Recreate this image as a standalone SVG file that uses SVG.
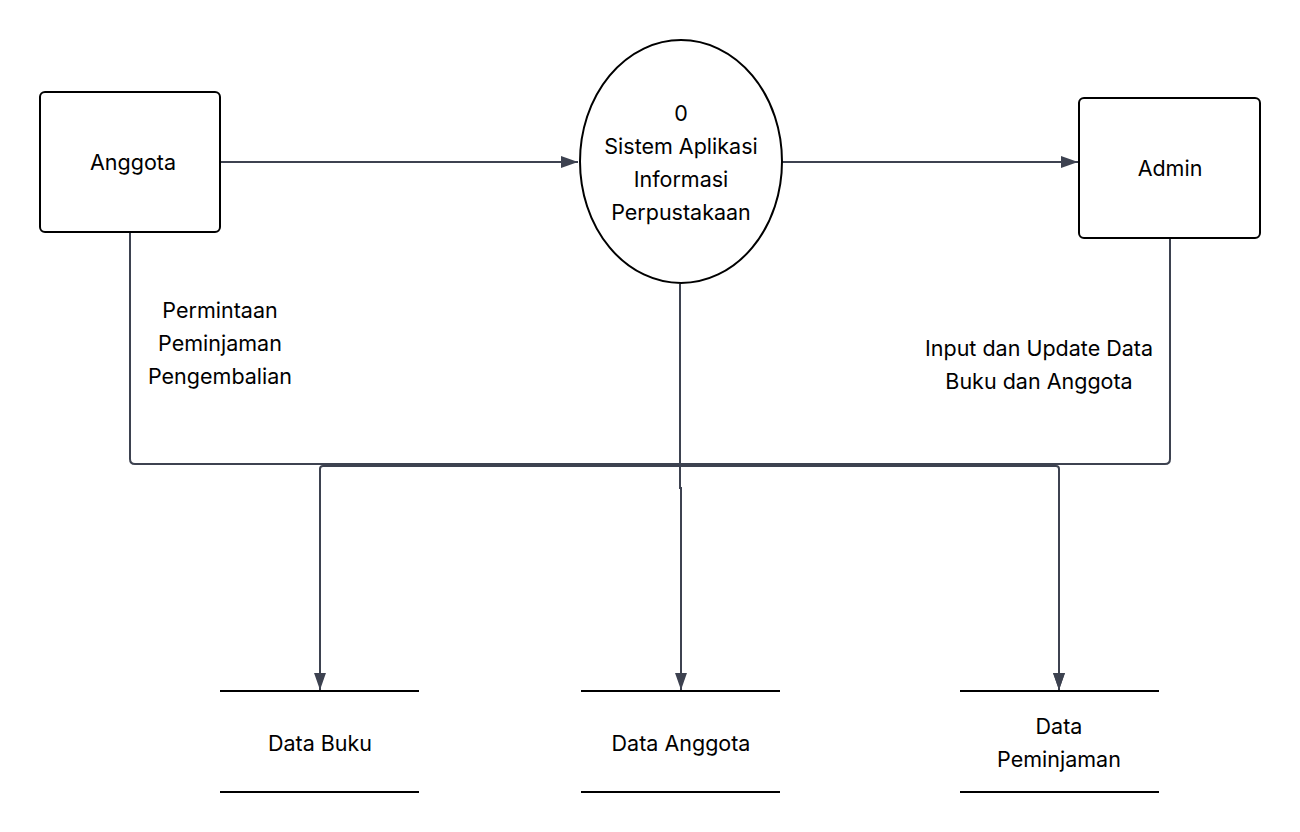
<svg xmlns="http://www.w3.org/2000/svg" width="1300" height="832" viewBox="0 0 1300 832">
<style>
.ent{fill:#fff;stroke:#000;stroke-width:2}
.con{fill:none;stroke:#3d4250;stroke-width:2}
.store{stroke:#000;stroke-width:2}
text{font-family:Inter,"Liberation Sans",sans-serif;font-size:21.5px;fill:#000;text-anchor:middle;dominant-baseline:central}
</style>
<defs>
<marker id="ah2" viewBox="0 0 10 10" refX="10" refY="5" markerWidth="17" markerHeight="17" markerUnits="userSpaceOnUse" orient="auto">
<path d="M0,1.5 L10,5 L0,8.5 z" fill="#3d4250"/>
</marker>
</defs>
<rect width="1300" height="832" fill="#fff"/>
<g id="connectors">
<path class="con" d="M221,162 H578" marker-end="url(#ah2)"/>
<path class="con" d="M782,162 H1078" marker-end="url(#ah2)"/>
<path class="con" d="M130,233 V459 Q130,464 135,464 H1165 Q1170,464 1170,459 V239"/>
<path class="con" d="M320,690 V469 Q320,466 323,466 H1056 Q1059,466 1059,469 V690" marker-end="url(#ah2)"/>
<path class="con" d="M320,480 V690" marker-end="url(#ah2)"/>
<path class="con" d="M680,284 V488 H681 V690" marker-end="url(#ah2)"/>
<path class="con" d="M1059,480 V690" marker-end="url(#ah2)"/>
</g>
<g id="anggota">
<rect class="ent" x="40" y="92" width="180" height="140" rx="5"/>
<text x="133" y="162">Anggota</text>
</g>
<g id="proses">
<ellipse class="ent" cx="681" cy="161.5" rx="101" ry="121.5"/>
<text x="681" y="113">0</text>
<text x="681" y="146">Sistem Aplikasi</text>
<text x="681" y="179">Informasi</text>
<text x="681" y="212">Perpustakaan</text>
</g>
<g id="admin">
<rect class="ent" x="1079" y="98" width="181" height="140" rx="5"/>
<text x="1170" y="168">Admin</text>
</g>
<g id="label-anggota">
<text x="220" y="310">Permintaan</text>
<text x="220" y="343">Peminjaman</text>
<text x="220" y="376">Pengembalian</text>
</g>
<g id="label-admin">
<text x="1039" y="348">Input dan Update Data</text>
<text x="1039" y="381">Buku dan Anggota</text>
</g>
<g id="data-buku">
<line class="store" x1="220" y1="691" x2="419" y2="691"/>
<line class="store" x1="220" y1="792" x2="419" y2="792"/>
<text x="320" y="743">Data Buku</text>
</g>
<g id="data-anggota">
<line class="store" x1="581" y1="691" x2="780" y2="691"/>
<line class="store" x1="581" y1="792" x2="780" y2="792"/>
<text x="681" y="743">Data Anggota</text>
</g>
<g id="data-peminjaman">
<line class="store" x1="960" y1="691" x2="1159" y2="691"/>
<line class="store" x1="960" y1="792" x2="1159" y2="792"/>
<text x="1059" y="726">Data</text>
<text x="1059" y="759">Peminjaman</text>
</g>
</svg>
